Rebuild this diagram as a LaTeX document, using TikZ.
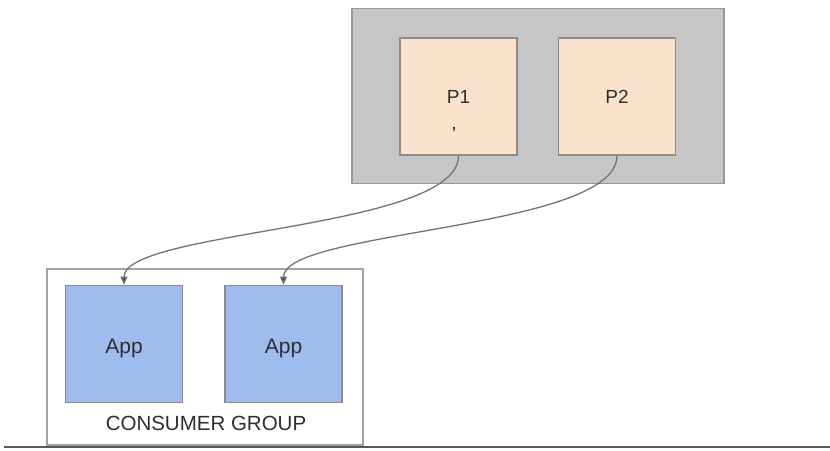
\documentclass[tikz,border=0pt]{standalone}
\usepackage{fontspec}
\setmainfont{Liberation Sans}
\usetikzlibrary{arrows.meta}

\begin{document}
\begin{tikzpicture}[x=1pt, y=-1pt]

% =======================================================
% Color definitions
% =======================================================
\definecolor{topicgray}{HTML}{C6C6C6}   % topic background
\definecolor{partpeach}{HTML}{FAE2CC}   % partitions
\definecolor{appblue}{HTML}{9FBCEF}     % consumer apps
\definecolor{edgegray}{HTML}{8C8C8C}    % box borders
\definecolor{textgray}{HTML}{2E2E2E}    % labels

% =======================================================
% Layout parameters
% =======================================================

% box size of partitions and apps
\def\boxw{117}
\def\boxh{117}

% =======================================================
% Styles
% =======================================================
\tikzset{
  topicbox/.style = {draw=edgegray!90, fill=topicgray, line width=1.6pt},
  partbox/.style  = {draw=edgegray, fill=partpeach, line width=1.6pt,
                     minimum width=\boxw, minimum height=\boxh,
                     font=\fontsize{19}{22}\selectfont, text=textgray},
  appbox/.style   = {draw=edgegray, fill=appblue, line width=1.6pt,
                     minimum width=\boxw, minimum height=\boxh,
                     text height=18.6pt, text depth=0pt,
                     font=\fontsize{21}{24}\selectfont, text=textgray},
  groupbox/.style = {draw=edgegray!80, fill=white, line width=1.2pt},
  feed/.style     = {draw=black!55, line width=1.3pt,
                     -{Triangle[length=8pt, width=7pt, fill=black!70]}},
}

\useasboundingbox (0,0) rectangle (830,450);

% =======================================================
% Topic with its two partitions
% =======================================================
\node[topicbox, minimum width=372, minimum height=175] (topic) at (538,96) {};

\node[partbox] (p1) at (458.5,96.5) {P1};
\node[partbox] (p2) at (617,96.5) {P2};

% stray mark inside P1
\node[text=textgray, font=\bfseries\fontsize{14}{14}\selectfont, inner sep=0]
    (tick) at (454,130) {,};

% =======================================================
% Consumer group
% =======================================================
\node[groupbox, minimum width=316, minimum height=176] (group) at (205,357) {};

\node[appbox] (app1) at (124,344) {App};
\node[appbox] (app2) at (283.5,344) {App};

\node[text=textgray, font=\fontsize{20.5}{22}\selectfont]
    (grouplabel) at (206,423) {CONSUMER GROUP};

% =======================================================
% Partition -> consumer
% =======================================================
\draw[feed]
    (p1.south) .. controls +(0,74) and +(0,-55) .. (app1.north);

\draw[feed]
    (p2.south) .. controls +(0,74) and +(0,-55) .. (app2.north);

% baseline at the bottom
\coordinate (baseL) at (4,447);
\coordinate (baseR) at (830,447);
\draw[black!65, line width=2pt] (baseL) -- (baseR);

\end{tikzpicture}
\end{document}
